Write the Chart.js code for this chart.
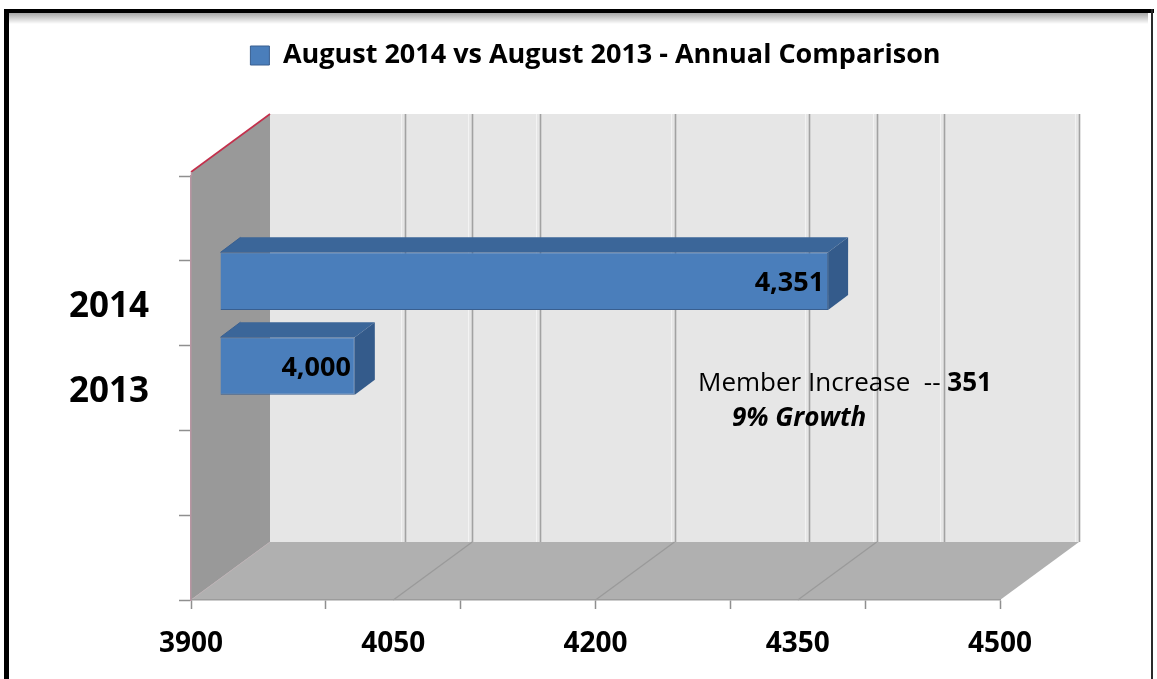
<!DOCTYPE html>
<html>
<head>
<meta charset="utf-8">
<title>August 2014 vs August 2013 - Annual Comparison</title>
<script src="https://cdn.jsdelivr.net/npm/chart.js@4.4.1/dist/chart.umd.min.js"></script>
<style>
  html, body { margin: 0; padding: 0; background: #ffffff; }
  canvas { display: block; }
</style>
</head>
<body>
<canvas id="chart" width="1157" height="679"></canvas>
<script>
// ---- data ----
const seriesLabel = 'August 2014 vs August 2013 - Annual Comparison';
const categories = ['', '2014', '2013', '', ''];
const members = [null, 4351, 4000, null, null];
const axisMin = 3900;
const axisMax = 4500;
const axisStep = 50;
const labelEvery = 150;   // values that carry a tick label
const markEvery = 100;    // values that carry a tick mark
const increaseText = 'Member Increase  -- ';
const increaseValue = '351';
const growthText = '9% Growth';

// ---- look ----
const FONT = '"Open Sans"';
const WALL = { dx: 79, dy: -58 };       // depth of the box the bars sit in
const WALL_OVERHANG = 4;                // walls rise a little above the top tick
const BAR_SHIFT = { dx: 29, dy: -22 };  // where the bar row sits inside that depth
const BAR_DEPTH = { dx: 20, dy: -15 };  // thickness of each bar
const BAR_FRONT = '#4a7ebb';
const BAR_TOP = '#3b6699';
const BAR_END = '#345b8b';
const BAR_EDGE = '#395f90';

function poly(ctx, pts, fill) {
  ctx.beginPath();
  ctx.moveTo(pts[0][0], pts[0][1]);
  for (let i = 1; i < pts.length; i++) ctx.lineTo(pts[i][0], pts[i][1]);
  ctx.closePath();
  ctx.fillStyle = fill;
  ctx.fill();
}

function line(ctx, x1, y1, x2, y2, color, width) {
  ctx.beginPath();
  ctx.moveTo(x1, y1);
  ctx.lineTo(x2, y2);
  ctx.strokeStyle = color;
  ctx.lineWidth = width;
  ctx.stroke();
}

// Frame, walls, floor and back-wall gridlines
const scene3d = {
  id: 'scene3d',
  beforeDraw(chart) {
    const { ctx, chartArea: a, scales: { x } } = chart;
    const W = chart.width, H = chart.height;
    ctx.save();
    ctx.fillStyle = '#ffffff';
    ctx.fillRect(0, 0, W, H);

    // outer frame
    const g = ctx.createLinearGradient(0, 13, 0, 24);
    g.addColorStop(0, 'rgba(0,0,0,0.35)');
    g.addColorStop(1, 'rgba(0,0,0,0)');
    ctx.fillStyle = g;
    ctx.fillRect(9, 13, W - 18, 11);
    ctx.fillStyle = '#000000';
    ctx.fillRect(4, 9, W - 7, 4);
    ctx.fillRect(4, 9, 5, H - 9);
    ctx.fillStyle = '#2a2a2a';
    ctx.fillRect(W - 6, 9, 2, H - 9);

    const L = a.left, R = a.right, T = a.top - WALL_OVERHANG, B = a.bottom;
    const dx = WALL.dx, dy = WALL.dy;

    // back wall
    ctx.fillStyle = '#e6e6e6';
    ctx.fillRect(L + dx, T + dy, R - L, B - T);

    // back wall gridlines
    x.ticks.forEach(t => {
      const v = t.value;
      if (v === x.min) return;
      if (v % markEvery !== 0 && v % labelEvery !== 0) return;
      const px = Math.round(x.getPixelForValue(v) + dx);
      line(ctx, px - 3.5, T + dy, px - 3.5, B + dy, '#f3f3f3', 1);
      line(ctx, px + 0.5, T + dy, px + 0.5, B + dy, '#a2a2a2', 1.6);
    });

    // floor
    poly(ctx, [[L, B], [L + dx, B + dy], [R + dx, B + dy], [R, B]], '#b0b0b0');
    x.ticks.forEach(t => {
      const v = t.value;
      if (v === x.min || v === x.max || v % labelEvery !== 0) return;
      const px = x.getPixelForValue(v);
      line(ctx, px, B, px + dx, B + dy, '#9a9a9a', 1.3);
    });

    // left wall
    poly(ctx, [[L, T], [L + dx, T + dy], [L + dx, B + dy], [L, B]], '#999999');
    line(ctx, L, B, L + dx, B + dy, '#bdb2b5', 1);
    line(ctx, L, T, L + dx, T + dy, '#c3304c', 1.6);
    line(ctx, L + 0.5, T, L + 0.5, a.top, '#b895a2', 1.5);
    ctx.restore();
  }
};

// Top and end faces of each bar, plus the value written on its front face
const bar3d = {
  id: 'bar3d',
  beforeDatasetsDraw(chart) {
    const ctx = chart.ctx;
    ctx.save();
    ctx.translate(BAR_SHIFT.dx, BAR_SHIFT.dy);
    const values = chart.data.datasets[0].data;
    chart.getDatasetMeta(0).data.forEach((bar, i) => {
      if (values[i] == null) return;
      const { x, y, base, height } = bar.getProps(['x', 'y', 'base', 'height'], true);
      const top = y - height / 2, bottom = y + height / 2;
      const { dx, dy } = BAR_DEPTH;
      poly(ctx, [[base, top], [base + dx, top + dy], [x + dx, top + dy], [x, top]], BAR_TOP);
      poly(ctx, [[x, top], [x + dx, top + dy], [x + dx, bottom + dy], [x, bottom]], BAR_END);
      line(ctx, base, top, base + dx, top + dy, BAR_EDGE, 1);
    });
  },
  afterDatasetsDraw(chart) {
    const ctx = chart.ctx;
    const values = chart.data.datasets[0].data;
    ctx.font = `bold 27px ${FONT}`;
    ctx.fillStyle = '#000000';
    ctx.textAlign = 'right';
    ctx.textBaseline = 'middle';
    chart.getDatasetMeta(0).data.forEach((bar, i) => {
      if (values[i] == null) return;
      const { x, y } = bar.getProps(['x', 'y'], true);
      ctx.fillText(values[i].toLocaleString('en-US'), x - 4, y + 2);
    });
    ctx.restore();
  }
};

// Note about the year-on-year change
const growthNote = {
  id: 'growthNote',
  afterDraw(chart) {
    const { ctx, chartArea: a } = chart;
    ctx.save();
    ctx.fillStyle = '#000000';
    ctx.textAlign = 'left';
    ctx.textBaseline = 'alphabetic';
    const x0 = a.left + 507, y0 = a.top + 215;
    ctx.font = `26px ${FONT}`;
    ctx.fillText(increaseText, x0, y0);
    const w = ctx.measureText(increaseText).width;
    ctx.font = `bold 26px ${FONT}`;
    ctx.fillText(increaseValue, x0 + w, y0);
    ctx.font = `italic bold 26px ${FONT}`;
    ctx.fillText(growthText, a.left + 541, a.top + 250);
    ctx.restore();
  }
};

// Extra room between the legend and the plot
const legendGap = {
  id: 'legendGap',
  beforeInit(chart) {
    const fit = chart.legend.fit;
    chart.legend.fit = function () {
      fit.call(this);
      this.height += 97;
    };
  }
};

new Chart(document.getElementById('chart'), {
  type: 'bar',
  data: {
    labels: categories,
    datasets: [{
      label: seriesLabel,
      data: members,
      base: axisMin,
      backgroundColor: BAR_FRONT,
      borderColor: BAR_EDGE,
      borderWidth: 1,
      categoryPercentage: 1,
      barPercentage: 0.68
    }]
  },
  options: {
    indexAxis: 'y',
    responsive: false,
    animation: false,
    devicePixelRatio: 1,
    layout: { padding: { top: 32, left: 0, right: 157, bottom: 0 } },
    plugins: {
      legend: {
        position: 'top',
        fullSize: false,
        labels: {
          color: '#000000',
          font: { family: FONT, size: 27, weight: 'bold' },
          boxWidth: 19,
          boxHeight: 19,
          padding: 10
        }
      },
      tooltip: { enabled: false }
    },
    scales: {
      x: {
        type: 'linear',
        min: axisMin,
        max: axisMax,
        ticks: {
          stepSize: axisStep,
          autoSkip: false,
          maxRotation: 0,
          padding: 18,
          color: '#000000',
          font: { family: FONT, size: 28, weight: 'bold' },
          callback: v => (v % labelEvery === 0 ? String(v) : '')
        },
        grid: {
          drawOnChartArea: false,
          tickLength: 9,
          tickWidth: 1.5,
          tickColor: c => (c.tick && c.tick.value % markEvery === 0 ? '#8f8f8f' : 'rgba(0,0,0,0)')
        },
        border: { color: '#9c9c9c', width: 1.5 },
        afterFit(s) { s.height = 79; }
      },
      y: {
        type: 'category',
        offset: true,
        ticks: {
          padding: 30,
          labelOffset: 4,
          color: '#000000',
          font: { family: FONT, size: 35, weight: 'bold' }
        },
        grid: {
          offset: true,
          drawOnChartArea: false,
          tickLength: 12,
          tickWidth: 1.5,
          tickColor: '#8f8f8f'
        },
        border: { color: '#b895a2', width: 1.5 },
        afterFit(s) { s.width = 191; }
      }
    }
  },
  plugins: [legendGap, scene3d, bar3d, growthNote]
});
</script>
</body>
</html>
